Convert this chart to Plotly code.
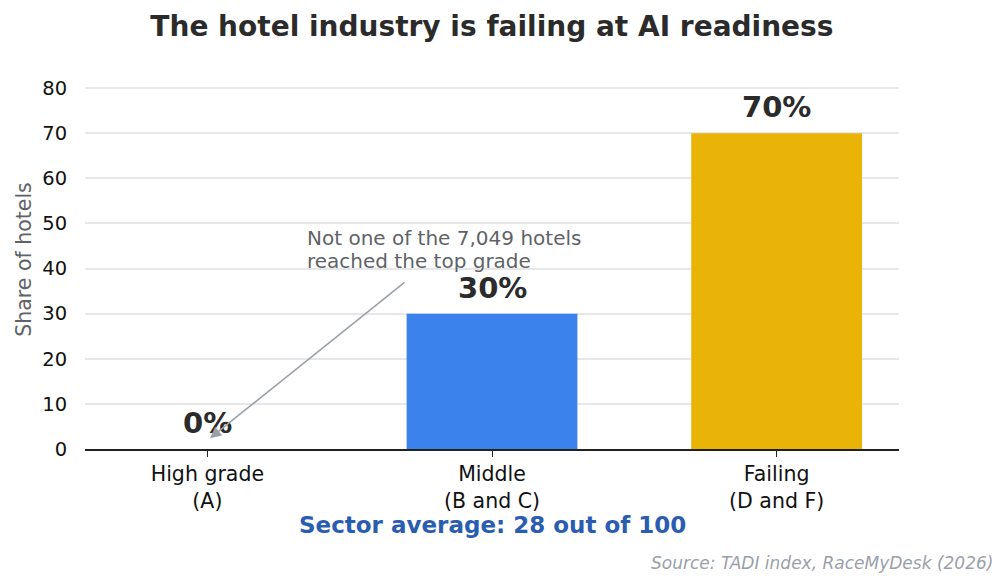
import plotly.graph_objects as go

categories = ["High grade<br>(A)", "Middle<br>(B and C)", "Failing<br>(D and F)"]
values = [0, 30, 70]
labels = ["0%", "30%", "70%"]
colors = ["#9ca3af", "#3b82ec", "#eab308"]
y_ticks = [0, 10, 20, 30, 40, 50, 60, 70, 80]
note_lines = ["Not one of the 7,049 hotels", "reached the top grade"]

FONT = "DejaVu Sans"
xpos = list(range(len(categories)))

fig = go.Figure()
fig.add_trace(go.Bar(
    x=xpos, y=values, width=0.6,
    marker=dict(color=colors, line=dict(width=0)),
    hoverinfo="skip",
))

fig.update_layout(
    width=1008, height=587,
    margin=dict(l=85, r=109, t=70, b=138),
    paper_bgcolor="white", plot_bgcolor="white",
    showlegend=False,
    font=dict(family=FONT, color="#000000"),
    title=dict(text="<b>The hotel industry is failing at AI readiness</b>",
               x=0.488, xanchor="center", y=0.955, yanchor="middle",
               font=dict(family=FONT, size=28, color="#2b2b2b")),
    xaxis=dict(range=[-0.43, 2.43], tickvals=xpos, ticktext=categories,
               showgrid=False, showline=True, linecolor="#222222", linewidth=1.5,
               ticks="outside", ticklen=6, tickcolor="#222222",
               tickfont=dict(family=FONT, size=20.5, color="#111111"), zeroline=False),
    yaxis=dict(range=[0, 84], tickvals=y_ticks,
               showgrid=True, gridcolor="#e6e6eb", gridwidth=1.5,
               showline=False, zeroline=False, ticks="outside", ticklen=13,
               tickcolor="rgba(0,0,0,0)",
               tickfont=dict(family=FONT, size=19.5, color="#111111"),
               title=dict(text="Share of hotels", standoff=5,
                          font=dict(family=FONT, size=20.5, color="#5f6368"))),
)

for xi, v, lab in zip(xpos, values, labels):
    fig.add_annotation(
        x=xi, y=v, xref="x", yref="y", xanchor="center", yanchor="middle",
        yshift=26, text="<b>" + lab + "</b>", showarrow=False,
        font=dict(family=FONT, size=29, color="#2b2b2b"),
    )

for line, yv in zip(note_lines, [46.8, 41.7]):
    fig.add_annotation(
        x=0.343, y=yv, xref="x", yref="y", xanchor="left", yanchor="middle",
        text=line, showarrow=False, align="left",
        font=dict(family=FONT, size=20, color="#5f6368"),
    )
fig.add_annotation(
    x=0.009, y=2.4, ax=0.698, ay=37.2, xref="x", yref="y", axref="x", ayref="y",
    showarrow=True, arrowhead=2, arrowsize=1.4, arrowwidth=1.6, arrowcolor="#9aa0aa",
    text="",
)
fig.add_annotation(
    x=0.5, y=-0.2, xref="paper", yref="paper", xanchor="center", yanchor="middle",
    text="<b>Sector average: 28 out of 100</b>", showarrow=False,
    font=dict(family=FONT, size=23, color="#2a5db0"),
)
fig.add_annotation(
    x=1.118, y=-0.301, xref="paper", yref="paper", xanchor="right", yanchor="middle",
    text="<i>Source: TADI index, RaceMyDesk (2026)</i>", showarrow=False,
    font=dict(family=FONT, size=17, color="#9aa0aa"),
)

fig.write_html("out.html")
